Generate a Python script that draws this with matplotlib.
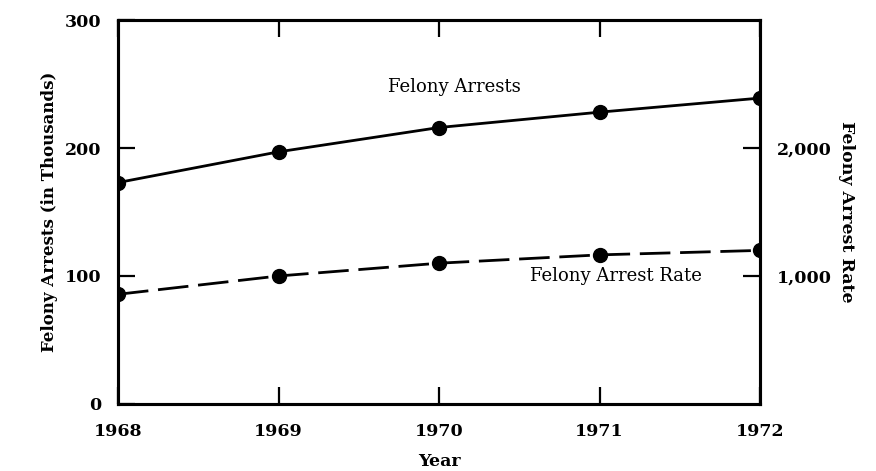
import matplotlib.pyplot as plt

# Données
years = [1968, 1969, 1970, 1971, 1972]
felony_arrests = [173, 197, 216, 228, 239]  # en milliers
felony_arrest_rate = [857, 1000, 1100, 1165, 1200]  # taux

left_ticks = [0, 100, 200, 300]
right_ticks = [1000, 2000]
right_tick_labels = ["1,000", "2,000"]

plt.rcParams['font.family'] = 'DejaVu Serif'

fig = plt.figure(figsize=(8.76, 4.71), dpi=100)
ax = fig.add_axes([0.1347, 0.1423, 0.7329, 0.8152])

# Arrestations (axe de gauche)
ax.plot(years, felony_arrests, color='black', linewidth=2.0,
        marker='o', markersize=10, solid_capstyle='round')

# Taux (axe de droite)
ax2 = ax.twinx()
ax2.plot(years, felony_arrest_rate, color='black', linewidth=2.0,
         marker='o', markersize=10, dashes=(11, 3.5))

ax.set_xlim(1968, 1972)
ax.set_ylim(0, 300)
ax2.set_ylim(0, 3000)

ax.set_xticks(years)
ax.set_xticklabels([str(y) for y in years], fontweight='bold', fontsize=12.5)
ax.set_yticks(left_ticks)
ax.set_yticklabels([str(t) for t in left_ticks], fontweight='bold', fontsize=12.5)
ax2.set_yticks(right_ticks)
ax2.set_yticklabels(right_tick_labels, fontweight='bold', fontsize=12.5)

ax.tick_params(axis='both', direction='in', length=12, width=1.6, pad=12)
ax.tick_params(axis='x', top=True, pad=14)
ax2.tick_params(axis='y', direction='in', length=12, width=1.6, pad=12)

for a in (ax, ax2):
    for s in a.spines.values():
        s.set_linewidth(2.2)

ax.set_xlabel("Year", fontweight='bold', fontsize=12.5, labelpad=9)
ax.set_ylabel("Felony Arrests (in Thousands)", fontweight='bold', fontsize=12, labelpad=5)
ax2.set_ylabel("Felony Arrest Rate", fontweight='bold', fontsize=12.5,
               rotation=-90, labelpad=17)

ax.text(1969.68, 248, "Felony Arrests", fontsize=13, va='center', ha='left')
ax.text(1970.57, 100, "Felony Arrest Rate", fontsize=13, va='center', ha='left')

plt.savefig("out.png", dpi=100)
